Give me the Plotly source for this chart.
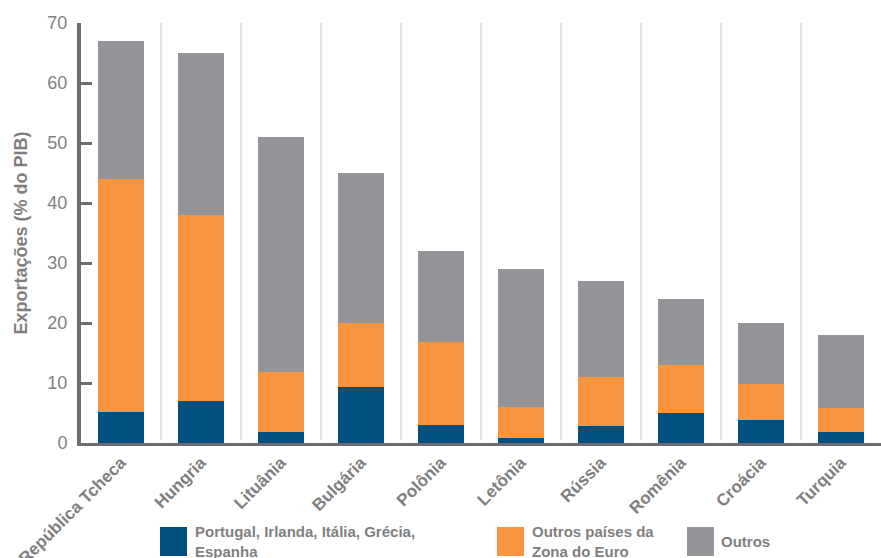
import plotly.graph_objects as go

# Export composition by destination, % of GDP
countries = ["República Tcheca", "Hungria", "Lituânia", "Bulgária", "Polônia",
             "Letônia", "Rússia", "Romênia", "Croácia", "Turquia"]
periphery = [5.1, 7.0, 1.8, 9.3, 3.0, 0.9, 2.9, 5.0, 3.8, 1.8]
other_euro = [38.9, 31.0, 10.0, 10.7, 13.8, 5.1, 8.1, 8.0, 6.0, 4.0]
others = [23.0, 27.0, 39.2, 25.0, 15.2, 23.0, 16.0, 11.0, 10.2, 12.2]

series_names = ["Portugal, Irlanda, Itália, Grécia,<br>Espanha",
                "Outros países da<br>Zona do Euro",
                "Outros"]
series_values = [periphery, other_euro, others]
colors = ["#00507f", "#f7943f", "#939598"]

y_ticks = [0, 10, 20, 30, 40, 50, 60, 70]

FONT = "Liberation Sans, Arial, sans-serif"
TXT = "#7f7f7f"
AXIS = "#6d6e71"

W, H = 881, 558
L, R, T, B = 81, 0, 23, 115
PW, PH = W - L - R, H - T - B

def px_x(x):
    return (x - L) / PW

def px_y(y):
    return (H - B - y) / PH

xs = list(range(len(countries)))

fig = go.Figure()
for name, vals, col in zip(series_names, series_values, colors):
    fig.add_trace(go.Bar(x=xs, y=vals, name=name, marker_color=col,
                         marker_line_width=0, width=0.575, showlegend=False))

# light separators between categories
shapes = []
for i in range(len(countries) - 1):
    shapes.append(dict(type="line", xref="x", yref="y", x0=i + 0.5, x1=i + 0.5,
                       y0=0.5, y1=70, line=dict(color="#d9d9d9", width=1.5),
                       layer="below"))

# legend built from swatches and labels below the axis
legend_pos = [(160, 193), (497, 530), (687, 719)]
annotations = []
for (sx, tx), name, col in zip(legend_pos, series_names, colors):
    shapes.append(dict(type="rect", xref="paper", yref="paper",
                       x0=px_x(sx), x1=px_x(sx + 27), y0=px_y(556), y1=px_y(527),
                       fillcolor=col, line_width=0))
    annotations.append(dict(xref="paper", yref="paper", x=px_x(tx), y=px_y(541),
                            text="<b>" + name + "</b>", showarrow=False,
                            xanchor="left", yanchor="middle", align="left",
                            font=dict(family=FONT, size=15, color=TXT)))

fig.update_layout(
    width=W, height=H, barmode="stack",
    margin=dict(l=L, r=R, t=T, b=B),
    paper_bgcolor="white", plot_bgcolor="white",
    font=dict(family=FONT, color=TXT),
    shapes=shapes, annotations=annotations,
    xaxis=dict(range=[-0.5, len(countries) - 0.5], tickvals=xs,
               ticktext=["<b>" + c + "</b>" for c in countries],
               tickangle=-45, tickfont=dict(family=FONT, size=17, color=TXT),
               showgrid=False, zeroline=False, showline=True, automargin=False,
               linecolor=AXIS, linewidth=3, ticks=""),
    yaxis=dict(range=[0, 70], tickvals=y_ticks, automargin=False,
               tickfont=dict(family=FONT, size=18, color=TXT),
               showgrid=False, zeroline=False, showline=True,
               linecolor=AXIS, linewidth=4, ticks="inside", ticklen=11,
               tickwidth=3, tickcolor=AXIS, ticklabelstandoff=6,
               title=dict(text="<b>Exportações (% do PIB)</b>",
                          font=dict(family=FONT, size=18, color=TXT),
                          standoff=16)),
)

fig.write_html("out.html")
